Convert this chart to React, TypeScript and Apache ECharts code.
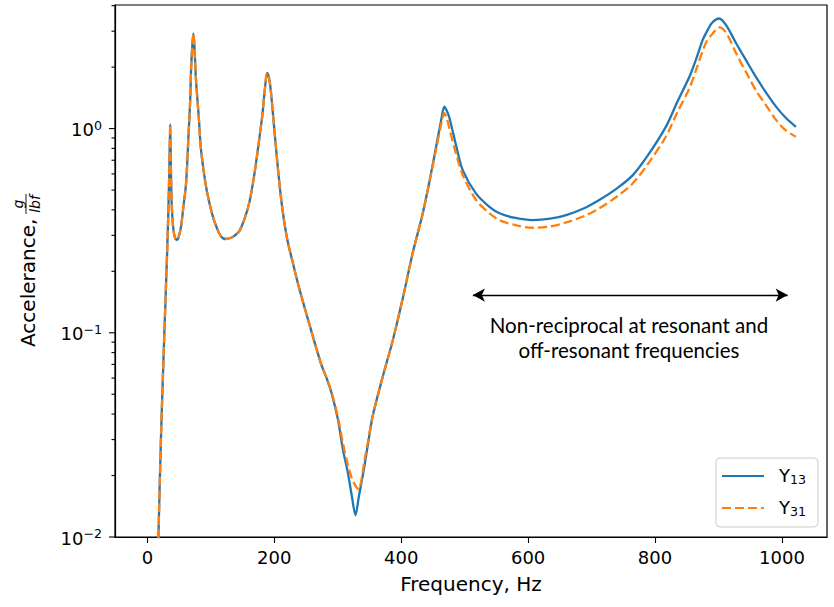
import React, { useEffect, useRef } from 'react';
import * as echarts from 'echarts';

// ---- data ----
const freq = [
  15, 17.4, 21.6, 26.8, 32, 34.5, 36, 37, 38.5, 41, 44, 47, 50, 53, 57, 61, 65, 67.5, 69, 71,
  72.5, 74, 75.6, 77, 81, 84.6, 92.5, 98, 105, 115, 123, 132, 138, 145, 153, 161, 168, 174, 181, 184.5,
  188.8, 192, 195, 203, 211, 220, 229, 238, 255, 274, 282, 290, 300, 308, 316, 322, 328, 333, 337, 342,
  348, 355, 371, 387, 403, 418, 434, 445, 455, 463, 468, 472, 476, 487, 497, 518, 539, 555, 580, 607,
  635, 660, 690, 712, 740, 765, 790, 817, 835, 854, 865, 875, 882, 890, 901, 912, 928, 945, 959, 975,
  991, 1006, 1022,
];
const y13 = [
  0.0055, 0.01, 0.032, 0.1, 0.3, 0.6, 1.05, 0.65, 0.42, 0.32, 0.29, 0.285, 0.3, 0.33, 0.42, 0.54, 0.95, 1.38, 2.0, 2.6,
  2.92, 2.6, 2.0, 1.66, 1.14, 0.785, 0.519, 0.43, 0.356, 0.3, 0.288, 0.292, 0.3, 0.315, 0.36, 0.44, 0.58, 0.785, 1.15, 1.486,
  1.875, 1.75, 1.486, 0.785, 0.447, 0.291, 0.222, 0.171, 0.111, 0.07, 0.0605, 0.051, 0.038, 0.027, 0.0206, 0.016, 0.0128, 0.0156, 0.0182, 0.0222,
  0.029, 0.039, 0.0611, 0.0925, 0.15, 0.245, 0.385, 0.56, 0.815, 1.1, 1.28, 1.22, 1.13, 0.815, 0.626, 0.48, 0.414, 0.385, 0.365, 0.3565,
  0.362, 0.377, 0.41, 0.447, 0.51, 0.592, 0.75, 1.02, 1.35, 1.79, 2.2, 2.71, 3.0, 3.3, 3.46, 3.21, 2.61, 2.12, 1.79, 1.5,
  1.278, 1.13, 1.02,
];
const y31 = [
  0.0055, 0.01, 0.032, 0.1, 0.3, 0.6, 1.05, 0.65, 0.42, 0.32, 0.29, 0.285, 0.3, 0.33, 0.42, 0.54, 0.95, 1.38, 2.0, 2.6,
  2.92, 2.6, 2.0, 1.66, 1.14, 0.785, 0.519, 0.43, 0.356, 0.3, 0.288, 0.292, 0.3, 0.315, 0.36, 0.44, 0.58, 0.785, 1.15, 1.486,
  1.875, 1.75, 1.486, 0.785, 0.447, 0.291, 0.222, 0.171, 0.111, 0.07, 0.0605, 0.0515, 0.039, 0.029, 0.0225, 0.0195, 0.0178, 0.0171, 0.0188, 0.0235,
  0.0298, 0.039, 0.0611, 0.0925, 0.15, 0.245, 0.385, 0.56, 0.79, 1.05, 1.19, 1.12, 1.0, 0.742, 0.592, 0.447, 0.385, 0.356, 0.337, 0.327,
  0.332, 0.347, 0.375, 0.407, 0.465, 0.54, 0.68, 0.912, 1.2, 1.573, 1.95, 2.4, 2.7, 2.9, 3.13, 2.95, 2.33, 1.85, 1.54, 1.3,
  1.1, 0.98, 0.912,
];
const seriesNames = ['Y13', 'Y31'];
const xTicks = [0, 200, 400, 600, 800, 1000];
const yMajorTicks = [0.01, 0.1, 1];
const yMinorTicks = [0.02, 0.03, 0.04, 0.05, 0.06, 0.07, 0.08, 0.09, 0.2, 0.3, 0.4, 0.5, 0.6, 0.7, 0.8, 0.9, 2, 3, 4];
const X_MIN = -51;
const X_MAX = 1071;
const Y_MIN = 0.01;
const Y_MAX = 4.03;
const arrowFrom = 513;
const arrowTo = 1009;
const arrowLevel = 0.153;
const annotationLines = ['Non-reciprocal at resonant and', 'off-resonant frequencies'];

const FONT = 'DejaVu Sans';

export default function App() {
  const ref = useRef<HTMLDivElement>(null);
  useEffect(() => {
    const chart = echarts.init(ref.current as HTMLDivElement, null, { renderer: 'svg' });
    const tickData = [
      ...yMajorTicks.map((v) => [X_MIN, v, 6]),
      ...yMinorTicks.map((v) => [X_MIN, v, 3.5]),
    ];
    const option: any = {
      animation: false,
      backgroundColor: '#fff',
      grid: {
        left: 115, right: 7, top: 5, bottom: 70,
        show: true, borderColor: '#000', borderWidth: 1.2, backgroundColor: 'transparent',
      },
      xAxis: {
        type: 'value', min: X_MIN, max: X_MAX,
        splitLine: { show: false },
        axisLine: { show: true, onZero: false, lineStyle: { color: '#000', width: 1.2 } },
        axisTick: { show: true, length: 6, customValues: xTicks, lineStyle: { color: '#000', width: 1.1 } },
        axisLabel: {
          customValues: xTicks, fontFamily: FONT, fontSize: 18, color: '#000', margin: 11,
          formatter: (v: number) => String(v),
        },
        name: 'Frequency, Hz', nameLocation: 'middle', nameGap: 37,
        nameTextStyle: { fontFamily: FONT, fontSize: 20, color: '#000' },
      },
      yAxis: {
        type: 'log', logBase: 10, min: Y_MIN, max: Y_MAX,
        splitLine: { show: false },
        axisLine: { show: true, onZero: false, lineStyle: { color: '#000', width: 1.2 } },
        axisTick: { show: false },
        axisLabel: {
          margin: 13, color: '#000',
          formatter: (v: number) => {
            const e = Math.log10(v);
            const r = Math.round(e);
            if (Math.abs(e - r) > 1e-6) return '';
            return `{b|10}{s|${r === 0 ? '0' : '\u2212' + -r}}`;
          },
          rich: {
            b: { fontFamily: FONT, fontSize: 18, lineHeight: 20, verticalAlign: 'bottom', color: '#000' },
            s: { fontFamily: FONT, fontSize: 12.6, lineHeight: 14, verticalAlign: 'top', padding: [0, 0, 9, 0], color: '#000' },
          },
        },
      },
      legend: {
        data: seriesNames,
        orient: 'vertical', right: 16, bottom: 80,
        padding: [8, 12, 9, 5],
        itemWidth: 42, itemHeight: 14, itemGap: 12,
        itemStyle: { opacity: 0 },
        backgroundColor: 'rgba(255,255,255,0.8)',
        borderColor: '#cccccc', borderWidth: 1, borderRadius: 4,
        formatter: (name: string) => `{m|Y}{s|${name.slice(1)}}`,
        textStyle: {
          rich: {
            m: { fontFamily: FONT, fontSize: 18, lineHeight: 20, verticalAlign: 'top', padding: [0, 0, 0, 10], color: '#000' },
            s: { fontFamily: FONT, fontSize: 12.6, lineHeight: 14, verticalAlign: 'bottom', padding: [7, 0, 0, 0], color: '#000' },
          },
        },
      },
      series: [
        {
          name: seriesNames[0], type: 'line', symbol: 'none', showSymbol: false,
          smooth: 0.3,
          data: freq.map((f, i) => [f, y13[i]]),
          lineStyle: { color: '#1f77b4', width: 2.3 }, itemStyle: { color: '#1f77b4' },
          z: 2,
          markLine: {
            silent: true, symbol: ['arrow', 'arrow'], symbolSize: [10, 12],
            label: { show: false },
            lineStyle: { color: '#000', type: 'solid', width: 1.3 },
            itemStyle: { color: '#000' },
            emphasis: { disabled: true },
            data: [[{ coord: [arrowFrom, arrowLevel] }, { coord: [arrowTo, arrowLevel] }]],
          },
        },
        {
          name: seriesNames[1], type: 'line', symbol: 'none', showSymbol: false,
          smooth: 0.3,
          data: freq.map((f, i) => [f, y31[i]]),
          lineStyle: { color: '#ff7f0e', width: 2.3, type: [9, 4] }, itemStyle: { color: '#ff7f0e' },
          z: 3,
        },
        {
          name: 'yticks', type: 'custom', silent: true, clip: false, z: 5,
          data: tickData,
          encode: { x: 0, y: 1 },
          renderItem: (params: any, api: any) => {
            const p = api.coord([api.value(0), api.value(1)]);
            const len = api.value(2);
            return {
              type: 'line',
              shape: { x1: p[0] - len, y1: p[1], x2: p[0], y2: p[1] },
              style: { stroke: '#000', lineWidth: 1.1 },
            };
          },
        },
      ],
      graphic: [
        {
          type: 'group', x: 28, y: 347, rotation: Math.PI / 2,
          children: [
            { type: 'text', x: 0, y: 0, style: { text: 'Accelerance,', fontFamily: FONT, fontSize: 20, fill: '#000', align: 'left', verticalAlign: 'middle', textAlign: 'left', textVerticalAlign: 'middle' } },
            { type: 'text', x: 143, y: -3, style: { text: 'g', fontFamily: FONT, fontStyle: 'italic', fontSize: 14, fill: '#000', align: 'center', verticalAlign: 'bottom', textAlign: 'center', textVerticalAlign: 'bottom' } },
            { type: 'line', shape: { x1: 133, y1: -2, x2: 153, y2: -2 }, style: { stroke: '#000', lineWidth: 0.9 } },
            { type: 'text', x: 143, y: 0, style: { text: 'lbf', fontFamily: FONT, fontStyle: 'italic', fontSize: 14, fill: '#000', align: 'center', verticalAlign: 'top', textAlign: 'center', textVerticalAlign: 'top' } },
          ],
        },
        {
          type: 'text', x: 629, y: 337,
          style: {
            text: annotationLines.join('\n'), fontFamily: 'Lato', fontSize: 20.5, lineHeight: 25, fill: '#000',
            align: 'center', verticalAlign: 'middle', textAlign: 'center', textVerticalAlign: 'middle',
          },
        },
      ],
    };
    chart.setOption(option);
    return () => chart.dispose();
  }, []);
  return <div ref={ref} style={{ position: 'fixed', left: 0, top: 0, width: 834, height: 607 }} />;
}
